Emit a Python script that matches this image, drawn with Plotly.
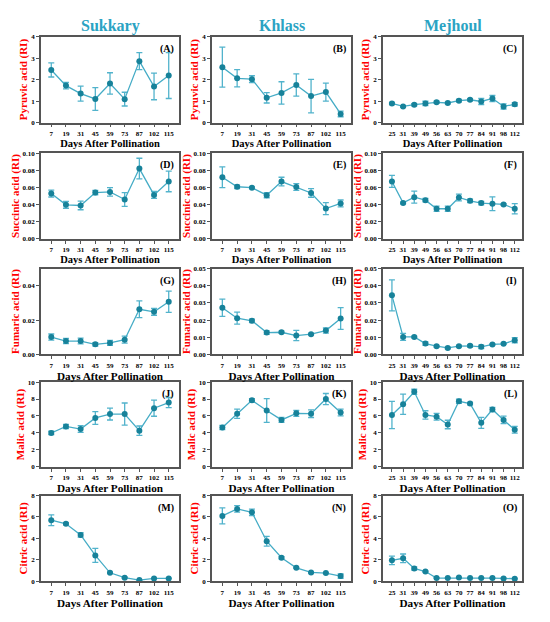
import plotly.graph_objects as go
from plotly.subplots import make_subplots

# dias após polinização
days_sk = ["7", "19", "31", "45", "59", "73", "87", "102", "115"]
days_kh = ["7", "19", "31", "45", "59", "73", "87", "102", "115"]
days_mj = ["25", "31", "39", "49", "56", "63", "70", "77", "84", "91", "98", "112"]

cultivares = ["Sukkary", "Khlass", "Mejhoul"]
acidos = ["Pyruvic acid (RI)", "Succinic acid (RI)", "Fumaric acid (RI)",
          "Malic acid (RI)", "Citric acid (RI)"]
letras = ["A", "B", "C", "D", "E", "F", "G", "H", "I", "J", "K", "L", "M", "N", "O"]

# Pyruvic
pyr_sk = [2.45, 1.72, 1.35, 1.10, 1.82, 1.09, 2.86, 1.68, 2.19]
pyr_sk_err = [0.33, 0.15, 0.35, 0.53, 0.50, 0.32, 0.40, 0.62, 1.07]
pyr_kh = [2.58, 2.06, 2.02, 1.15, 1.38, 1.75, 1.23, 1.42, 0.40]
pyr_kh_err = [0.93, 0.40, 0.16, 0.24, 0.52, 0.52, 0.78, 0.42, 0.13]
pyr_mj = [0.89, 0.75, 0.83, 0.89, 0.94, 0.91, 1.02, 1.06, 0.98, 1.12, 0.75, 0.85]
pyr_mj_err = [0.05, 0.04, 0.05, 0.10, 0.05, 0.04, 0.06, 0.05, 0.14, 0.14, 0.12, 0.08]

# Succinic
suc_sk = [0.0529, 0.0398, 0.0390, 0.0540, 0.0548, 0.0460, 0.0820, 0.0513, 0.0670]
suc_sk_err = [0.004, 0.004, 0.005, 0.0025, 0.005, 0.008, 0.012, 0.004, 0.012]
suc_kh = [0.0719, 0.0608, 0.0597, 0.0510, 0.0669, 0.0605, 0.0536, 0.0354, 0.0414]
suc_kh_err = [0.012, 0.002, 0.001, 0.003, 0.005, 0.004, 0.005, 0.007, 0.004]
suc_mj = [0.0670, 0.0420, 0.0487, 0.0452, 0.0352, 0.0352, 0.0483, 0.0444, 0.0418, 0.0410, 0.0402, 0.0352]
suc_mj_err = [0.007, 0.001, 0.007, 0.002, 0.003, 0.003, 0.004, 0.002, 0.002, 0.008, 0.001, 0.006]

# Fumaric
fum_sk = [0.0101, 0.0078, 0.0078, 0.0059, 0.0067, 0.0086, 0.0263, 0.0248, 0.0307]
fum_sk_err = [0.0018, 0.0015, 0.0017, 0.001, 0.0014, 0.002, 0.0049, 0.002, 0.0062]
fum_kh = [0.0272, 0.0211, 0.0196, 0.0127, 0.0129, 0.0110, 0.0118, 0.0139, 0.0209]
fum_kh_err = [0.005, 0.0035, 0.001, 0.001, 0.0007, 0.003, 0.0005, 0.0015, 0.0063]
fum_mj = [0.0344, 0.0102, 0.0102, 0.0063, 0.0048, 0.0038, 0.0048, 0.0050, 0.0044, 0.0058, 0.0062, 0.0083]
fum_mj_err = [0.009, 0.002, 0.0005, 0.001, 0.0005, 0.0005, 0.0005, 0.0007, 0.001, 0.0004, 0.0003, 0.0015]

# Malic
mal_sk = [4.00, 4.77, 4.46, 5.77, 6.23, 6.23, 4.27, 6.92, 7.58]
mal_sk_err = [0.2, 0.25, 0.4, 0.75, 0.7, 1.3, 0.55, 0.95, 0.6]
mal_kh = [4.65, 6.27, 7.85, 6.65, 5.54, 6.31, 6.27, 8.00, 6.42]
mal_kh_err = [0.25, 0.55, 0.2, 1.4, 0.3, 0.35, 0.45, 0.65, 0.4]
mal_mj = [6.12, 7.38, 8.85, 6.12, 5.92, 5.00, 7.73, 7.46, 5.19, 6.77, 5.54, 4.38]
mal_mj_err = [1.6, 1.2, 0.3, 0.5, 0.4, 0.5, 0.25, 0.15, 0.65, 0.25, 0.45, 0.4]

# Citric
cit_sk = [5.70, 5.37, 4.33, 2.42, 0.80, 0.34, 0.12, 0.28, 0.28]
cit_sk_err = [0.5, 0.1, 0.2, 0.65, 0.05, 0.05, 0.05, 0.03, 0.03]
cit_kh = [6.10, 6.75, 6.44, 3.74, 2.20, 1.26, 0.83, 0.77, 0.49]
cit_kh_err = [0.75, 0.3, 0.3, 0.45, 0.1, 0.05, 0.05, 0.05, 0.2]
cit_mj = [1.96, 2.15, 1.20, 0.92, 0.31, 0.31, 0.37, 0.31, 0.31, 0.31, 0.28, 0.25]
cit_mj_err = [0.4, 0.4, 0.15, 0.06, 0.03, 0.03, 0.03, 0.02, 0.02, 0.02, 0.02, 0.02]

dados = [
    [(pyr_sk, pyr_sk_err), (pyr_kh, pyr_kh_err), (pyr_mj, pyr_mj_err)],
    [(suc_sk, suc_sk_err), (suc_kh, suc_kh_err), (suc_mj, suc_mj_err)],
    [(fum_sk, fum_sk_err), (fum_kh, fum_kh_err), (fum_mj, fum_mj_err)],
    [(mal_sk, mal_sk_err), (mal_kh, mal_kh_err), (mal_mj, mal_mj_err)],
    [(cit_sk, cit_sk_err), (cit_kh, cit_kh_err), (cit_mj, cit_mj_err)],
]
dias = [days_sk, days_kh, days_mj]

# escalas do eixo y por linha (range, dtick, formato)
escalas_y = [
    [([0, 4], 1, "d")] * 3,
    [([0, 0.1], 0.02, ".2f")] * 3,
    [([0, 0.05], 0.02, ".2f"), ([0, 0.05], 0.01, ".2f"), ([0, 0.05], 0.01, ".2f")],
    [([0, 10], 2, "d")] * 3,
    [([0, 8], 2, "d")] * 3,
]

# a página tem 8px de margem no body; posições medidas na janela
OFF = 8
W, H = 534, 606
col_px = [(41, 179), (212, 351), (383, 522)]
row_px = [(33, 120), (151, 238), (268, 355), (383, 469), (498, 585)]

FONTE = "Liberation Serif, Times New Roman, serif"
COR_LINHA = "#45acc6"
COR_MARCADOR = "#17829a"
COR_ERRO = "#52b3cc"
COR_TITULO = "#2aa3c3"

fig = make_subplots(rows=5, cols=3)

for i in range(5):
    for j in range(3):
        y, err = dados[i][j]
        fig.add_trace(go.Scatter(
            x=dias[j], y=y, mode="lines+markers",
            line=dict(color=COR_LINHA, width=1.3),
            marker=dict(color=COR_MARCADOR, size=6),
            error_y=dict(type="data", array=err, color=COR_ERRO, thickness=1.3, width=3),
            showlegend=False,
        ), row=i + 1, col=j + 1)

        n = len(dias[j])
        faixa_x = [-0.7, n - 1 + 0.7] if j < 2 else [-0.8, n - 1 + 0.65]
        tam_titulo_x = 10.5 if i < 2 else 11.2
        fig.update_xaxes(
            type="category", range=faixa_x, tickangle=0,
            domain=[(col_px[j][0] - OFF) / W, (col_px[j][1] - OFF) / W],
            showline=True, mirror=True, linecolor="#555555", linewidth=1.5,
            ticks="outside", ticklen=3, tickcolor="#555555", showgrid=False,
            tickfont=dict(family=FONTE, size=7, color="black", weight="bold"),
            title=dict(text="Days After Pollination", standoff=0,
                       font=dict(family=FONTE, size=tam_titulo_x, color="black", weight="bold")),
            row=i + 1, col=j + 1)

        faixa_y, passo, fmt = escalas_y[i][j]
        fig.update_yaxes(
            range=faixa_y, dtick=passo, tickformat=fmt,
            domain=[1 - (row_px[i][1] - OFF) / H, 1 - (row_px[i][0] - OFF) / H],
            showline=True, mirror=True, linecolor="#555555", linewidth=1.5,
            ticks="outside", ticklen=3, tickcolor="#555555", showgrid=False, zeroline=False,
            tickfont=dict(family=FONTE, size=7, color="black", weight="bold"),
            title=dict(text=acidos[i], standoff=1,
                       font=dict(family=FONTE, size=11, color="#ff0000", weight="bold")),
            row=i + 1, col=j + 1)

        # rótulo do painel
        k = i * 3 + j
        eixo = "" if k == 0 else str(k + 1)
        fig.add_annotation(
            text=f"({letras[k]})", xref=f"x{eixo} domain", yref=f"y{eixo} domain",
            x=0.98, y=0.95, xanchor="right", yanchor="top", showarrow=False,
            font=dict(family=FONTE, size=10, color="black", weight="bold"))

# títulos das colunas
for j, nome in enumerate(cultivares):
    fig.add_annotation(
        text=nome, xref="paper", yref="paper",
        x=((col_px[j][0] + col_px[j][1]) / 2 - OFF) / W, y=1 - (22 - OFF) / H,
        xanchor="center", yanchor="middle", showarrow=False,
        font=dict(family=FONTE, size=16, color=COR_TITULO, weight="bold"))

fig.update_layout(
    width=W, height=H,
    margin=dict(l=0, r=0, t=0, b=0),
    plot_bgcolor="white", paper_bgcolor="white",
    showlegend=False,
)

fig.write_html("out.html")
